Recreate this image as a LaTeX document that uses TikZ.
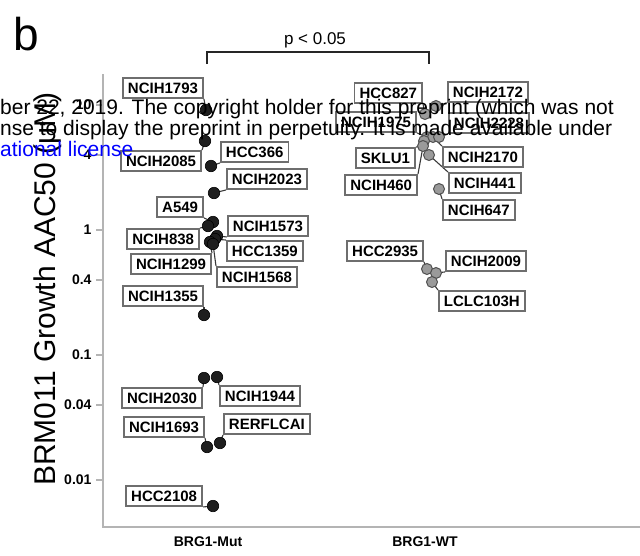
\documentclass[tikz,border=0pt]{standalone}
\usepackage{fontspec}
\setmainfont{Liberation Sans}
\definecolor{boxgrey}{HTML}{6E6E6E}
\definecolor{axgrey}{HTML}{B4B4B4}
\definecolor{dotblack}{HTML}{1E1E1E}
\definecolor{dotgrey}{HTML}{9A9A9A}
\definecolor{dotedge}{HTML}{505050}
\definecolor{connc}{HTML}{3A3A3A}
\pgfdeclarelayer{bg}
\pgfsetlayers{bg,main}
\begin{document}
\begin{tikzpicture}[x=1pt,y=-1pt,
  lab/.style={draw=boxgrey, line width=1.9pt, fill=white, inner xsep=5pt, inner ysep=0pt, minimum height=20pt, font=\fontsize{15}{16}\selectfont\bfseries},
  mdot/.style={circle, fill=dotblack, draw=black, line width=0.6pt, inner sep=0pt, minimum size=11.5pt},
  wdot/.style={circle, fill=dotgrey, draw=dotedge, line width=1pt, inner sep=0pt, minimum size=11pt},
  conn/.style={draw=connc, line width=1.1pt},
  ticklbl/.style={anchor=east, font=\fontsize{14}{14}\selectfont\bfseries},
  axline/.style={draw=axgrey, line width=2.2pt},
  wmark/.style={anchor=base west, inner sep=0pt, font=\fontsize{21}{21}\selectfont}
]
\useasboundingbox (0,0) rectangle (640,555);

% axes
\coordinate (axtop) at (103,75);
\coordinate (axorig) at (103,527);
\coordinate (axright) at (639,527);
\draw[axline, line cap=rect] (axtop) -- (axorig) -- (axright);
\foreach \yy/\tl [count=\i] in {105/10,155/4,230/1,280/0.4,355/0.1,405/0.04,480/0.01}{
  \coordinate (tk\i) at (96,\yy);
  \coordinate (tr\i) at (103,\yy);
  \draw[axline, line width=1.6pt] (tk\i) -- (tr\i);
  \node[ticklbl] (tl\i) at (95,\yy) {\tl};
}

% panel letter, y label, x labels
\node[anchor=base west, inner sep=0pt, font=\fontsize{46}{46}\selectfont] (letter) at (13,50) {b};
\node[rotate=90, anchor=base, inner sep=0pt, font=\fontsize{30}{30}\selectfont] (ylab) at (55,289) {BRM011 Growth AAC50 (μM)};
\node[font=\fontsize{14}{14}\selectfont\bfseries] (xmut) at (208,542) {BRG1-Mut};
\node[font=\fontsize{14}{14}\selectfont\bfseries] (xwt) at (425,542) {BRG1-WT};

% significance bracket
\coordinate (bl) at (207,64);
\coordinate (blt) at (207,52);
\coordinate (brt) at (429,52);
\coordinate (br) at (429,64);
\draw[line width=1.8pt, draw=black!85] (bl) -- (blt) -- (brt) -- (br);
\node[font=\fontsize{17}{17}\selectfont] (pval) at (315,40) {p < 0.05};

% BRG1-Mut labels
\node[lab, anchor=west] (b1793) at (122,88) {NCIH1793};
\node[lab, anchor=east] (b2085) at (202,161) {NCIH2085};
\node[lab, anchor=west] (b366) at (220,152) {HCC366};
\node[lab, anchor=west] (b2023) at (226,179) {NCIH2023};
\node[lab, anchor=east] (bA549) at (204,207) {A549};
\node[lab, anchor=west] (b1573) at (227,226) {NCIH1573};
\node[lab, anchor=west] (b1359) at (226,251) {HCC1359};
\node[lab, anchor=east] (b838) at (200,239) {NCIH838};
\node[lab, anchor=east] (b1299) at (212,264) {NCIH1299};
\node[lab, anchor=west] (b1568) at (216,277) {NCIH1568};
\node[lab, anchor=east] (b1355) at (204,296) {NCIH1355};
\node[lab, anchor=east] (b2030) at (203,398) {NCIH2030};
\node[lab, anchor=west] (b1944) at (219,396) {NCIH1944};
\node[lab, anchor=east] (b1693) at (205,427) {NCIH1693};
\node[lab, anchor=west] (bRERF) at (223,424) {RERFLCAI};
\node[lab, anchor=east] (b2108) at (203,496) {HCC2108};

% BRG1-WT labels
\node[lab, anchor=east] (b827) at (423,93) {HCC827};
\node[lab, anchor=west] (b2172) at (447,92) {NCIH2172};
\node[lab, anchor=east] (b1975) at (417,122) {NCIH1975};
\node[lab, anchor=west] (b2228) at (448,123) {NCIH2228};
\node[lab, anchor=east] (bSKLU) at (416,158) {SKLU1};
\node[lab, anchor=west] (b2170) at (442,157) {NCIH2170};
\node[lab, anchor=east] (b460) at (418,185) {NCIH460};
\node[lab, anchor=west] (b441) at (448,183) {NCIH441};
\node[lab, anchor=west] (b647) at (442,210) {NCIH647};
\node[lab, anchor=east] (b2935) at (424,251) {HCC2935};
\node[lab, anchor=west] (b2009) at (445,261) {NCIH2009};
\node[lab, anchor=west] (bLCLC) at (438,301) {LCLC103H};

% BRG1-Mut dots
\node[mdot] (d1793) at (206,110) {};
\node[mdot] (d2085) at (205,141) {};
\node[mdot] (d366) at (211,166) {};
\node[mdot] (d2023) at (214,193) {};
\node[mdot] (dA549) at (213,222) {};
\node[mdot] (d838) at (208,226) {};
\node[mdot] (d1573) at (217,236) {};
\node[mdot] (d1359) at (215,239) {};
\node[mdot] (d1299) at (210,242) {};
\node[mdot] (d1568) at (213,244) {};
\node[mdot] (d1355) at (204,315) {};
\node[mdot] (d2030) at (204,378) {};
\node[mdot] (d1944) at (217,377) {};
\node[mdot] (d1693) at (207,447) {};
\node[mdot] (dRERF) at (220,443) {};
\node[mdot] (d2108) at (213,506) {};

% BRG1-WT dots
\node[wdot] (d2172) at (436,106) {};
\node[wdot] (d827) at (425,114) {};
\node[wdot] (d1975) at (427,137) {};
\node[wdot] (d2170) at (433,137) {};
\node[wdot] (d2228) at (439,137) {};
\node[wdot] (d460) at (424,141) {};
\node[wdot] (dSKLU) at (423,146) {};
\node[wdot] (d441) at (429,155) {};
\node[wdot] (d647) at (439,189) {};
\node[wdot] (d2935) at (427,269) {};
\node[wdot] (d2009) at (436,273) {};
\node[wdot] (dLCLC) at (432,282) {};

% connectors (behind)
\begin{pgfonlayer}{bg}
\draw[conn] (b1793.south east) -- (d1793.center);
\draw[conn] (b2085.north east) -- (d2085.center);
\draw[conn] (b366.south west) -- (d366.center);
\draw[conn] (b2023.south west) -- (d2023.center);
\draw[conn] (bA549.south east) -- (dA549.center);
\draw[conn] (b838.north east) -- (d838.center);
\draw[conn] (b1573.south west) -- (d1573.center);
\draw[conn] (b1359.north west) -- (d1359.center);
\draw[conn] (b1299.north east) -- (d1299.center);
\draw[conn] (b1568.north west) -- (d1568.center);
\draw[conn] (b1355.south east) -- (d1355.center);
\draw[conn] (b2030.north east) -- (d2030.center);
\draw[conn] (b1944.north west) -- (d1944.center);
\draw[conn] (b1693.south east) -- (d1693.center);
\draw[conn] (bRERF.south west) -- (dRERF.center);
\draw[conn] (b2108.south east) -- (d2108.center);
\draw[conn] (b827.south east) -- (d827.center);
\draw[conn] (b2172.south west) -- (d2172.center);
\draw[conn] (b1975.south east) -- (d1975.center);
\draw[conn] (b2228.south west) -- (d2228.center);
\draw[conn] (bSKLU.north east) -- (dSKLU.center);
\draw[conn] (b2170.north west) -- (d2170.center);
\draw[conn] (b460.north east) -- (d460.center);
\draw[conn] (b441.north west) -- (d441.center);
\draw[conn] (b647.north west) -- (d647.center);
\draw[conn] (b2935.south east) -- (d2935.center);
\draw[conn] (b2009.south west) -- (d2009.center);
\draw[conn] (bLCLC.north west) -- (dLCLC.center);
\end{pgfonlayer}

% overlaid preprint notice
\node[wmark] (wm1) at (0,114) {ber 22, 2019. The copyright holder for this preprint (which was not};
\node[wmark] (wm2) at (0,135) {nse to display the preprint in perpetuity. It is made available under};
\node[wmark, text=blue] (wm3) at (0,156) {ational license};
\end{tikzpicture}
\end{document}
